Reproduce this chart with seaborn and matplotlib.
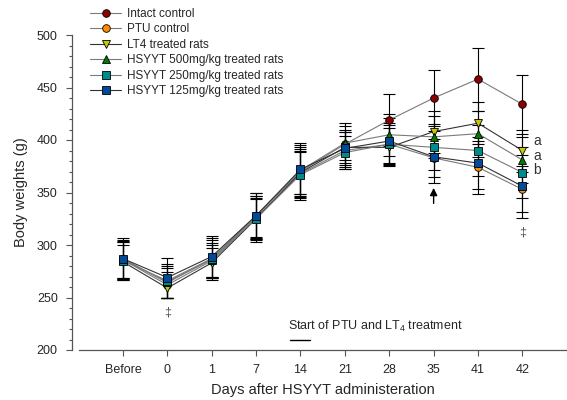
import numpy as np
import pandas as pd
import matplotlib
matplotlib.use("Agg")
import matplotlib.pyplot as plt
import seaborn as sns
from matplotlib.ticker import MultipleLocator

days = ["Before", "0", "1", "7", "14", "21", "28", "35", "41", "42"]
groups = ["Intact control", "PTU control", "LT4 treated rats",
          "HSYYT 500mg/kg treated rats", "HSYYT 250mg/kg treated rats",
          "HSYYT 125mg/kg treated rats"]

intact = [287, 264, 287, 328, 370, 396, 419, 440, 458, 434]
ptu    = [286, 262, 285, 326, 368, 390, 396, 383, 374, 353]
lt4    = [284, 259, 283, 325, 369, 393, 393, 408, 416, 390]
h500   = [286, 265, 286, 327, 371, 397, 405, 403, 406, 381]
h250   = [285, 266, 287, 325, 367, 388, 396, 393, 390, 369]
h125   = [287, 269, 289, 328, 372, 392, 399, 384, 378, 356]

sd_intact = [18, 14, 20, 22, 25, 20, 25, 27, 30, 28]
sd_ptu    = [18, 12, 15, 18, 22, 18, 18, 18, 25, 22]
sd_lt4    = [16, 9, 14, 20, 20, 15, 18, 20, 20, 20]
sd_h500   = [17, 15, 16, 20, 22, 16, 20, 20, 22, 22]
sd_h250   = [18, 16, 18, 22, 24, 16, 20, 22, 24, 24]
sd_h125   = [20, 19, 20, 22, 25, 18, 22, 25, 25, 30]

means = [intact, ptu, lt4, h500, h250, h125]
sds = [sd_intact, sd_ptu, sd_lt4, sd_h500, sd_h250, sd_h125]
face_colors = ["#8B0000", "#FF8C00", "#C8C800", "#007A00", "#008B8B", "#004A99"]
markers = ["o", "o", "v", "^", "s", "s"]
line_colors = ["#7a7a7a", "#7a7a7a", "#333333", "#7a7a7a", "#7a7a7a", "#333333"]

sns.set_theme(style="ticks")
plt.rcParams["font.family"] = ["Liberation Sans", "DejaVu Sans"]
plt.rcParams["mathtext.fontset"] = "custom"
plt.rcParams["mathtext.rm"] = "Liberation Sans"
plt.rcParams["mathtext.it"] = "Liberation Sans:italic"

fig = plt.figure(figsize=(5.67, 4.0), dpi=100)
ax = fig.add_axes([0.1386, 0.125, 0.861, 0.7875])

xpos = np.arange(len(days))
for m, s in zip(means, sds):
    ax.errorbar(xpos, m, yerr=s, fmt="none", ecolor="black", elinewidth=0.8,
                capsize=4, capthick=0.8, zorder=2)

for g, m, fc, mk, lc in zip(groups, means, face_colors, markers, line_colors):
    df = pd.DataFrame({"x": xpos, "y": m})
    sns.lineplot(data=df, x="x", y="y", ax=ax, color=lc, linewidth=0.8,
                 marker=mk, markersize=5.5, markerfacecolor=fc,
                 markeredgecolor="black", markeredgewidth=0.6,
                 label=g, zorder=3)

ax.set_xlim(-1, 10)
ax.set_ylim(200, 500)
ax.set_xticks(xpos)
ax.set_xticklabels(days)
ax.yaxis.set_major_locator(MultipleLocator(50))
ax.yaxis.set_minor_locator(MultipleLocator(10))
ax.tick_params(axis="both", which="major", direction="out", length=4, width=0.8,
               labelsize=9, color="#555555", pad=6)
ax.tick_params(axis="y", which="minor", direction="out", length=2.5, width=0.8, color="#555555")
ax.spines["top"].set_visible(False)
ax.spines["right"].set_visible(False)
ax.spines["left"].set_position(("outward", 5))
for sp in ["left", "bottom"]:
    ax.spines[sp].set_color("#555555")
    ax.spines[sp].set_linewidth(0.9)

ax.set_xlabel("Days after HSYYT administeration", fontsize=10.5, labelpad=5)
ax.set_ylabel("Body weights (g)", fontsize=10.5, labelpad=6)

leg = ax.legend(loc="upper left", bbox_to_anchor=(0.146, 1.0), bbox_transform=fig.transFigure,
                frameon=False, fontsize=8.5, handlelength=2.6, labelspacing=0.3,
                borderaxespad=0.25, handletextpad=0.5)

# annotations
ax.text(1, 236, "‡", ha="center", va="center", fontsize=9, color="#555555")
ax.text(9, 312, "‡", ha="center", va="center", fontsize=9, color="#555555")
ax.text(9.25, 399, "a", ha="left", va="center", fontsize=10, color="#333333")
ax.text(9.25, 385, "a", ha="left", va="center", fontsize=10, color="#333333")
ax.text(9.25, 371, "b", ha="left", va="center", fontsize=10, color="#333333")
ax.text(5.68, 222, "Start of PTU and LT$_4$ treatment", ha="center", va="center", fontsize=9)
ax.plot([3.76, 4.22], [210, 210], color="black", linewidth=1.0)
ax.annotate("", xy=(7, 357), xytext=(7, 337),
            arrowprops=dict(arrowstyle="-|>", color="black", lw=1.0, mutation_scale=11))

fig.savefig("out.png", dpi=100)
